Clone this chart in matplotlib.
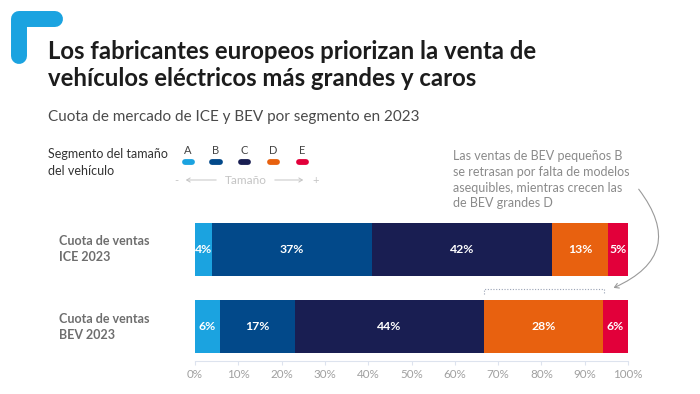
import matplotlib
matplotlib.use("Agg")
import matplotlib.pyplot as plt
from matplotlib.lines import Line2D
from matplotlib.patches import FancyArrowPatch
from matplotlib.transforms import blended_transform_factory

plt.rcParams["font.family"] = ["Lato", "DejaVu Sans"]

# data
segments = ["A", "B", "C", "D", "E"]
rows = ["Cuota de ventas\nICE 2023", "Cuota de ventas\nBEV 2023"]
ice_share = [3.9, 37.0, 41.5, 13.0, 4.6]
bev_share = [5.8, 17.3, 43.6, 27.5, 5.8]
ticks = [0, 10, 20, 30, 40, 50, 60, 70, 80, 90, 100]

colors = ["#1ba3e0", "#02498a", "#191e52", "#e8610f", "#e2003a"]
W, H = 700, 394


def fx(px):
    return px / W


def fy(py):
    return 1 - py / H


fig = plt.figure(figsize=(7, 3.94), dpi=100)

# blue corner mark
fig.add_artist(Line2D([fx(19), fx(19), fx(55)], [fy(56), fy(19), fy(19)],
                      transform=fig.transFigure, color="#1ba3e0", lw=11.5,
                      solid_capstyle="round", solid_joinstyle="round"))

# multi-line texts are anchored on the baseline of their last line
fig.text(fx(48), fy(86), "Los fabricantes europeos priorizan la venta de\n"
         "vehículos eléctricos más grandes y caros",
         fontsize=17.2, fontweight="bold", color="#1c1c1c", va="baseline",
         linespacing=1.2)
fig.text(fx(48), fy(121), "Cuota de mercado de ICE y BEV por segmento en 2023",
         fontsize=11, color="#4a4a4a", va="baseline")

# legend
fig.text(fx(48), fy(175), "Segmento del tamaño\ndel vehículo", fontsize=9,
         color="#333333", va="baseline", linespacing=1.45)
leg_x = [188, 216, 244, 273, 302]
for seg, c, x in zip(segments, colors, leg_x):
    fig.text(fx(x), fy(154), seg, fontsize=8, color="#444444", ha="center",
             va="baseline")
    fig.add_artist(Line2D([fx(x - 3.5), fx(x + 3.5)], [fy(162), fy(162)],
                          transform=fig.transFigure, color=c, lw=4.2,
                          solid_capstyle="round"))
fig.text(fx(176), fy(184), "-", fontsize=8, color="#c4c4c4", ha="center",
         va="baseline")
fig.text(fx(316), fy(184), "+", fontsize=8, color="#c4c4c4", ha="center",
         va="baseline")
fig.text(fx(246), fy(184), "Tamaño", fontsize=8.5, color="#c4c4c4",
         ha="center", va="baseline")
for x0, x1 in [(219, 183), (272, 306)]:
    fig.add_artist(FancyArrowPatch((fx(x0), fy(180)), (fx(x1), fy(180)),
                                   transform=fig.transFigure,
                                   arrowstyle="->,head_length=2.5,head_width=1.5",
                                   color="#c4c4c4", lw=0.7))

# annotation
fig.text(fx(453), fy(207), "Las ventas de BEV pequeños B\n"
         "se retrasan por falta de modelos\n"
         "asequibles, mientras crecen las\n"
         "de BEV grandes D", fontsize=9, color="#8a8a8a", va="baseline",
         linespacing=1.35)
fig.add_artist(FancyArrowPatch((fx(637), fy(187)), (fx(611), fy(289)),
                               transform=fig.transFigure,
                               connectionstyle="arc3,rad=-0.65",
                               arrowstyle="->,head_length=3,head_width=1.8",
                               color="#9a9a9a", lw=0.8))
fig.add_artist(Line2D([fx(484), fx(484), fx(604), fx(604)],
                      [fy(294), fy(289), fy(289), fy(294)],
                      transform=fig.transFigure, color="#9aa3b5", lw=0.8,
                      ls=(0, (1, 1.5))))

# bars
ax = fig.add_axes([fx(195), fy(361), fx(628) - fx(195), (361 - 215) / H])
ypos = [1, 0]
for y, shares in zip(ypos, [ice_share, bev_share]):
    left = 0
    for v, c in zip(shares, colors):
        ax.barh(y, v, left=left, height=0.69, color=c, edgecolor="none")
        ax.text(left + v / 2, y, f"{v:.0f}%", ha="center", va="center",
                color="white", fontsize=8.8, fontweight="bold")
        left += v

ax.set_xlim(0, 100)
ax.set_ylim(-0.448, 1.448)
ax.set_yticks([])
ax.set_xticks(ticks)
ax.set_xticklabels([f"{t}%" for t in ticks])
ax.tick_params(axis="x", colors="#dde3ee", labelcolor="#a0a0a0",
               labelsize=8.4, length=3, width=0.8, pad=3)
for s in ["top", "left", "right"]:
    ax.spines[s].set_visible(False)
ax.spines["bottom"].set_color("#dde3ee")
ax.set_facecolor("none")

row_tr = blended_transform_factory(fig.transFigure, ax.transData)
for y, label in zip(ypos, rows):
    ax.text(fx(59), y, label, transform=row_tr, ha="left", va="center",
            fontsize=9, color="#6e6e6e", fontweight="bold", linespacing=1.4)

fig.savefig("out.png", dpi=100)
